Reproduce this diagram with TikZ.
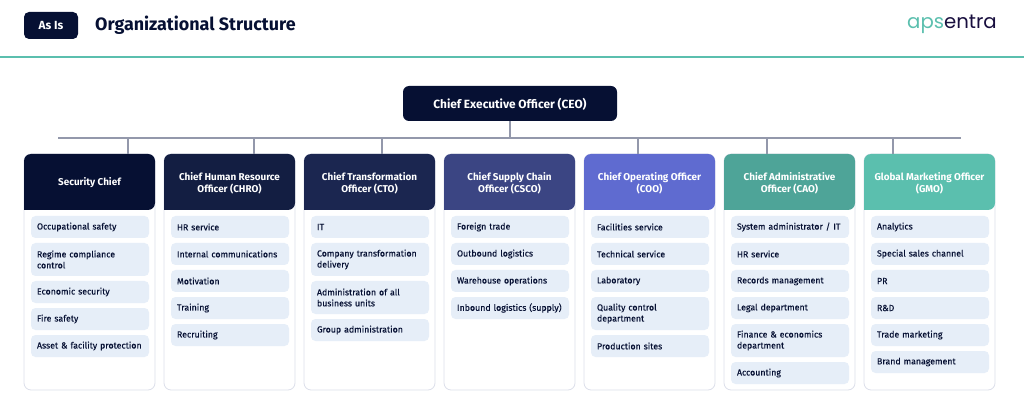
\documentclass[tikz,border=0pt]{standalone}
\usepackage{fontspec}
\setmainfont{Fira Sans}
\newfontfamily\medf{Fira Sans}[FakeBold=0.3,WordSpace=0.55]
\newfontfamily\logof{Poppins}
\definecolor{ink}{HTML}{061033}
\definecolor{chipc}{HTML}{E6EEF8}
\definecolor{edge}{HTML}{DCDFEA}
\definecolor{teal}{HTML}{5BBFAE}
\definecolor{linec}{HTML}{9398AB}
\definecolor{hA}{HTML}{061033}
\definecolor{hB}{HTML}{131E42}
\definecolor{hC}{HTML}{1B2650}
\definecolor{hD}{HTML}{3B4583}
\definecolor{hE}{HTML}{5F6BD0}
\definecolor{hF}{HTML}{4EA498}
\definecolor{hG}{HTML}{5BBFAE}
\tikzset{
 x=1pt,y=-1pt,
 chip/.style={anchor=north west,fill=chipc,rounded corners=4.5pt,text=ink,text width=106pt,inner xsep=6pt,inner ysep=0pt,outer sep=0pt,minimum height=22pt,align=left,font=\medf\fontsize{8.8}{11}\selectfont},
 chiptwo/.style={chip,minimum height=33pt},
 nextchip/.style={anchor=north},
 head/.style={anchor=north west,minimum width=131pt,minimum height=56pt,inner sep=0pt,outer sep=0pt,align=center,text=white,font=\bfseries\fontsize{9.9}{12}\selectfont},
 cardbody/.style={anchor=north west,draw=edge,line width=.8pt,fill=white,rounded corners=7pt,minimum width=131pt,minimum height=236pt,inner sep=0pt,outer sep=0pt},
 wire/.style={draw=linec,line width=1.3pt},
}
\newcommand{\headshape}[2]{\fill[#2,rounded corners=7pt] (#1,210) -- (#1,154) -- (#1+131,154) -- (#1+131,210) [sharp corners] -- cycle;}
\begin{document}
\begin{tikzpicture}
\useasboundingbox (0,0) rectangle (1024,419);
% header
\node[anchor=north west,fill=ink,rounded corners=5pt,minimum width=54pt,minimum height=27pt,inner sep=0pt,outer sep=0pt,text=white,font=\bfseries\fontsize{11.8}{14}\selectfont] (asis) at (24,12) {As Is};
\node[anchor=west,inner sep=0pt,text=ink,font=\bfseries\fontsize{17.9}{20}\selectfont] (title) at (95,25.5) {Organizational Structure};
\node[anchor=east,inner sep=0pt,font=\logof\fontsize{19.7}{24}\selectfont] (logo) at (997,24.5) {\textcolor{teal}{aps}\textcolor{ink!85!violet}{entra}};
\coordinate (ruleL) at (0,57);
\coordinate (ruleR) at (1024,57);
\draw[teal,line width=1.6pt] (ruleL) -- (ruleR);
% CEO and wires
\node[anchor=north west,fill=ink,rounded corners=6pt,minimum width=214pt,minimum height=35pt,inner sep=0pt,outer sep=0pt,text=white,text depth=0pt,font=\bfseries\fontsize{11.9}{14}\selectfont] (ceo) at (403,86) {Chief Executive Officer (CEO)};
\coordinate (barL) at (58,138);
\coordinate (barR) at (961,138);
\coordinate (barM) at (510,138);
\draw[wire] (barL) -- (barR);
\draw[wire] (ceo.south -| barM) -- (barM);
% cards
\node[cardbody] (b1) at (24,154) {};
\node[cardbody] (b2) at (164,154) {};
\node[cardbody] (b3) at (304,154) {};
\node[cardbody] (b4) at (444,154) {};
\node[cardbody] (b5) at (584,154) {};
\node[cardbody] (b6) at (724,154) {};
\node[cardbody] (b7) at (864,154) {};
\headshape{24}{hA}\headshape{164}{hB}\headshape{304}{hC}\headshape{444}{hD}\headshape{584}{hE}\headshape{724}{hF}\headshape{864}{hG}
\node[head] (h1) at (24,155) {Security Chief};
\node[head] (h2) at (164,155) {Chief Human Resource\\Officer (CHRO)};
\node[head] (h3) at (304,155) {Chief Transformation\\Officer (CTO)};
\node[head] (h4) at (444,155) {Chief Supply Chain\\Officer (CSCO)};
\node[head] (h5) at (584,155) {Chief Operating Officer\\(COO)};
\node[head] (h6) at (724,155) {Chief Administrative\\Officer (CAO)};
\node[head] (h7) at (864,155) {Global Marketing Officer\\(GMO)};
\coordinate (d1) at (128,138);\coordinate (d2) at (254,138);\coordinate (d3) at (382,138);\coordinate (d4) at (638,138);\coordinate (d5) at (767,138);\coordinate (d6) at (893,138);
\draw[wire] (d1) -- (b1.north -| d1);
\draw[wire] (d2) -- (b2.north -| d2);
\draw[wire] (d3) -- (b3.north -| d3);
\draw[wire] (d4) -- (b5.north -| d4);
\draw[wire] (d5) -- (b6.north -| d5);
\draw[wire] (d6) -- (b7.north -| d6);
% col 1
\node[chip] (a1) at (31,216) {Occupational safety};
\node[chiptwo,nextchip] (a2) at ([yshift=-5pt]a1.south) {Regime compliance\\control};
\node[chip,nextchip] (a3) at ([yshift=-5pt]a2.south) {Economic security};
\node[chip,nextchip] (a4) at ([yshift=-5pt]a3.south) {Fire safety};
\node[chip,nextchip] (a5) at ([yshift=-5pt]a4.south) {Asset \& facility protection};
% col 2
\node[chip] (c1) at (171,216) {HR service};
\node[chip,nextchip] (c2) at ([yshift=-5pt]c1.south) {Internal communications};
\node[chip,nextchip] (c3) at ([yshift=-5pt]c2.south) {Motivation};
\node[chip,nextchip] (c4) at ([yshift=-5pt]c3.south) {Training};
\node[chip,nextchip] (c5) at ([yshift=-5pt]c4.south) {Recruiting};
% col 3
\node[chip] (e1) at (311,216) {IT};
\node[chiptwo,nextchip] (e2) at ([yshift=-5pt]e1.south) {Company transformation\\delivery};
\node[chiptwo,nextchip] (e3) at ([yshift=-5pt]e2.south) {Administration of all\\business units};
\node[chip,nextchip] (e4) at ([yshift=-5pt]e3.south) {Group administration};
% col 4
\node[chip] (f1) at (451,216) {Foreign trade};
\node[chip,nextchip] (f2) at ([yshift=-5pt]f1.south) {Outbound logistics};
\node[chip,nextchip] (f3) at ([yshift=-5pt]f2.south) {Warehouse operations};
\node[chip,nextchip] (f4) at ([yshift=-5pt]f3.south) {Inbound logistics (supply)};
% col 5
\node[chip] (g1) at (591,216) {Facilities service};
\node[chip,nextchip] (g2) at ([yshift=-5pt]g1.south) {Technical service};
\node[chip,nextchip] (g3) at ([yshift=-5pt]g2.south) {Laboratory};
\node[chiptwo,nextchip] (g4) at ([yshift=-5pt]g3.south) {Quality control\\department};
\node[chip,nextchip] (g5) at ([yshift=-5pt]g4.south) {Production sites};
% col 6
\node[chip] (k1) at (731,216) {System administrator / IT};
\node[chip,nextchip] (k2) at ([yshift=-5pt]k1.south) {HR service};
\node[chip,nextchip] (k3) at ([yshift=-5pt]k2.south) {Records management};
\node[chip,nextchip] (k4) at ([yshift=-5pt]k3.south) {Legal department};
\node[chiptwo,nextchip] (k5) at ([yshift=-5pt]k4.south) {Finance \& economics\\department};
\node[chip,nextchip] (k6) at ([yshift=-5pt]k5.south) {Accounting};
% col 7
\node[chip] (m1) at (871,216) {Analytics};
\node[chip,nextchip] (m2) at ([yshift=-5pt]m1.south) {Special sales channel};
\node[chip,nextchip] (m3) at ([yshift=-5pt]m2.south) {PR};
\node[chip,nextchip] (m4) at ([yshift=-5pt]m3.south) {R\&D};
\node[chip,nextchip] (m5) at ([yshift=-5pt]m4.south) {Trade marketing};
\node[chip,nextchip] (m6) at ([yshift=-5pt]m5.south) {Brand management};
\end{tikzpicture}
\end{document}
